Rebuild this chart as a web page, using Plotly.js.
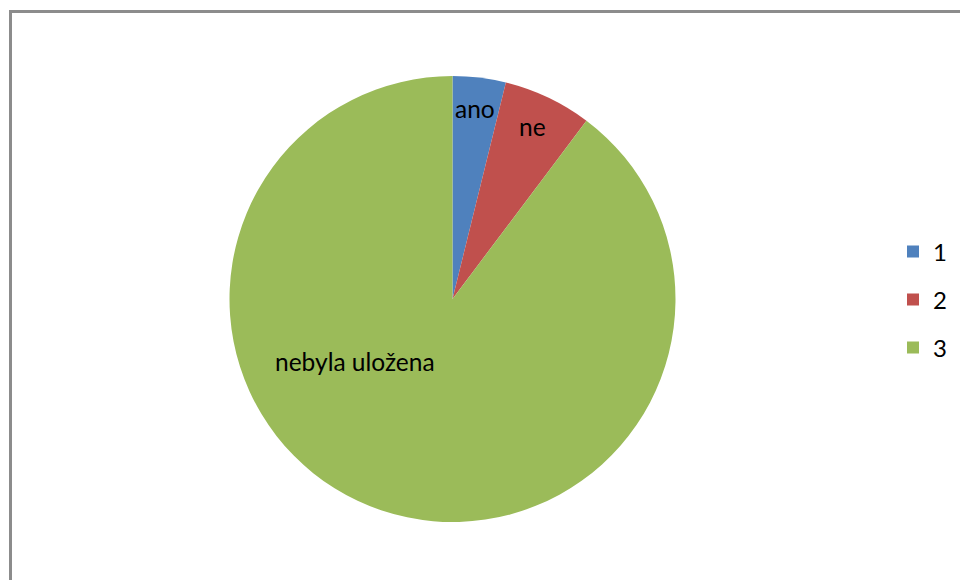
<!DOCTYPE html>
<html>
<head>
<meta charset="utf-8">
<script src="https://cdn.plot.ly/plotly-3.0.1.min.js"></script>
<style>html,body{margin:0;padding:0;background:#fff;}#chart{width:960px;height:580px;}</style>
</head>
<body>
<div id="chart"></div>
<script>
// Data
var categories = ['1', '2', '3'];
var sliceText = ['ano', 'ne', 'nebyla uložena'];
var values = [3, 5, 70];
var colors = ['#4F81BD', '#C0504D', '#9BBB59'];

var FONT = 'Lato, "Liberation Sans", sans-serif';

var legendLabels = categories.map(function (c) {
  return '<span style="font-size:24px;baseline-shift:4px">' + c + '</span>';
});

var trace = {
  type: 'pie',
  labels: legendLabels,
  values: values,
  text: sliceText,
  textinfo: 'none',
  sort: false,
  direction: 'clockwise',
  rotation: 0,
  marker: { colors: colors, line: { width: 0 } },
  domain: { x: [229.5 / 960, 675.5 / 960], y: [58 / 580, 504 / 580] },
  hoverinfo: 'skip'
};

// label positions (layout only)
var labelPos = [[474.5, 108], [532, 126.5], [355, 361.5]];
var annotations = sliceText.map(function (t, i) {
  return {
    text: t, xref: 'paper', yref: 'paper',
    x: labelPos[i][0] / 960, y: 1 - labelPos[i][1] / 580,
    xanchor: 'center', yanchor: 'middle', showarrow: false,
    font: { family: FONT, size: 24.5, color: '#000' }
  };
});

var layout = {
  width: 960, height: 580,
  margin: { l: 0, r: 0, t: 0, b: 0 },
  paper_bgcolor: '#fff', plot_bgcolor: '#fff',
  showlegend: true,
  legend: {
    x: 893 / 960, xanchor: 'left',
    y: 1 - 222.5 / 580, yanchor: 'top',
    font: { family: FONT, size: 34.6, color: '#000' },
    bgcolor: 'rgba(0,0,0,0)', borderwidth: 0
  },
  annotations: annotations,
  shapes: [{
    type: 'rect', xref: 'paper', yref: 'paper',
    x0: 10.5 / 960, x1: 1.05, y0: 1 - 11.5 / 580, y1: -0.05,
    line: { color: '#8c8c8c', width: 3 }, fillcolor: 'rgba(0,0,0,0)', layer: 'above'
  }]
};

Plotly.newPlot('chart', [trace], layout, { displayModeBar: false, staticPlot: true });
</script>
</body>
</html>
